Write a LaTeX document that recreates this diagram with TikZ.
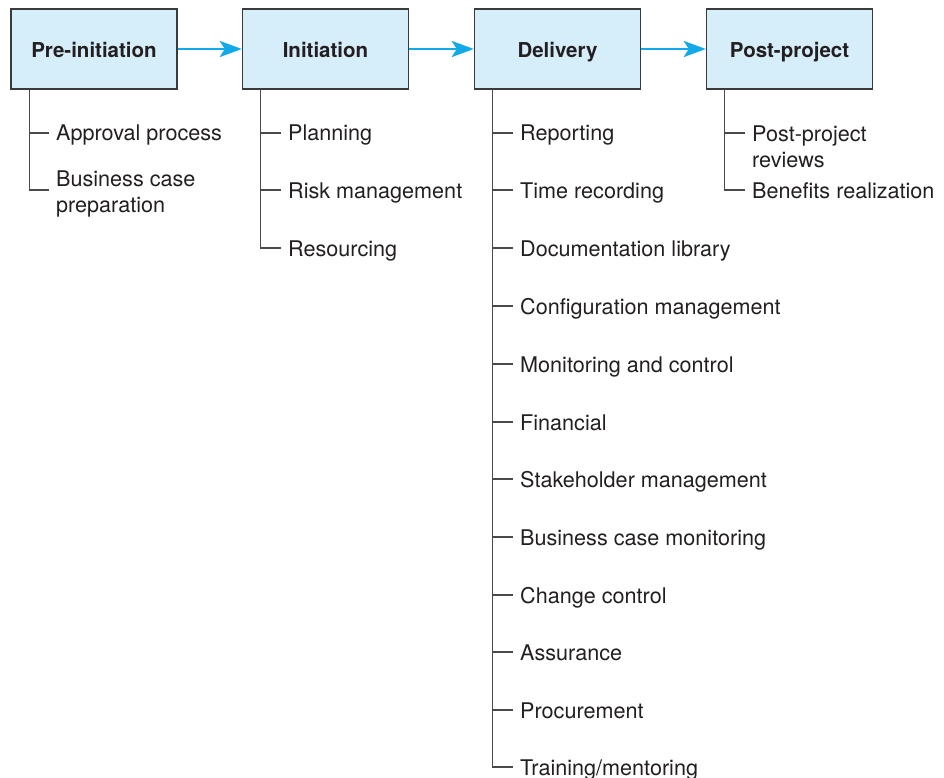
\documentclass[tikz,border=0pt]{standalone}
\usepackage{fontspec}
\setmainfont{TeX Gyre Heros}
\usetikzlibrary{arrows.meta}

\definecolor{boxblue}{HTML}{D6EDFA}
\definecolor{boxline}{HTML}{3A3A3A}
\definecolor{flowcyan}{HTML}{12A9E8}
\definecolor{treegray}{HTML}{4A4A4A}
\definecolor{inkblack}{HTML}{231F20}

\tikzset{
  stage/.style={draw=boxline, fill=boxblue, line width=1.4pt,
    minimum width=166pt, minimum height=80pt, inner sep=0pt,
    text height=17pt, text depth=0pt,
    font=\fontsize{20.5}{24}\selectfont\bfseries, text=inkblack},
  flow/.style={flowcyan, line width=2.8pt,
    -{Stealth[length=22pt,width=16pt,inset=5pt]}},
  task/.style={anchor=west, inner xsep=7pt, inner ysep=0pt,
    text height=16pt, text depth=0pt,
    font=\fontsize{21.6}{26}\selectfont, text=inkblack},
  tasklong/.style={anchor=north west, inner xsep=7pt, inner ysep=0pt,
    align=left, font=\fontsize{21.6}{26}\selectfont, text=inkblack},
  branch/.style={treegray, line width=1.3pt}
}

\begin{document}
\begin{tikzpicture}[x=1pt,y=-1pt]
        \useasboundingbox (0,0) rectangle (944,778);

        % Stage boxes
        \node[stage] (pre) at (94,49) {Pre-initiation};
        \node[stage] (ini) at (325.5,49) {Initiation};
        \node[stage] (del) at (557.5,49) {Delivery};
        \node[stage] (post) at (789.5,49) {Post-project};

        % Arrows between stages
        \draw[flow] (pre.east) -- (ini.west);
        \draw[flow] (ini.east) -- (del.west);
        \draw[flow] (del.east) -- (post.west);

        % Where the branches leave the boxes
        \coordinate (pre-top) at ([xshift=19pt]pre.south west);
        \coordinate (ini-top) at ([xshift=19pt]ini.south west);
        \coordinate (del-top) at ([xshift=19pt]del.south west);
        \coordinate (post-top) at ([xshift=19pt]post.south west);

        % Pre-initiation tasks
        \node[task] (pre1) at (49,133) {Approval process};
        \node[tasklong] (pre2) at (49,171) {Business case\\preparation};
        \coordinate (pre2-tick) at (49,190);
        \draw[branch] (pre-top |- pre1.west) -- (pre1.west);
        \draw[branch] (pre-top) |- (pre2-tick);

        % Initiation tasks
        \node[task] (ini1) at (281,133) {Planning};
        \node[task] (ini2) at (281,190) {Risk management};
        \node[task] (ini3) at (281,248) {Resourcing};
        \draw[branch] (ini-top |- ini1.west) -- (ini1.west);
        \draw[branch] (ini-top |- ini2.west) -- (ini2.west);
        \draw[branch] (ini-top) |- (ini3.west);

        % Delivery tasks
        \node[task] (del1) at (513,133) {Reporting};
        \node[task] (del2) at (513,190) {Time recording};
        \node[task] (del3) at (513,248) {Documentation library};
        \node[task] (del4) at (513,306) {Configuration management};
        \node[task] (del5) at (513,364) {Monitoring and control};
        \node[task] (del6) at (513,422) {Financial};
        \node[task] (del7) at (513,479) {Stakeholder management};
        \node[task] (del8) at (513,537) {Business case monitoring};
        \node[task] (del9) at (513,595) {Change control};
        \node[task] (del10) at (513,652) {Assurance};
        \node[task] (del11) at (513,710) {Procurement};
        \node[task] (del12) at (513,767) {Training/mentoring};
        \draw[branch] (del-top |- del1.west) -- (del1.west);
        \draw[branch] (del-top |- del2.west) -- (del2.west);
        \draw[branch] (del-top |- del3.west) -- (del3.west);
        \draw[branch] (del-top |- del4.west) -- (del4.west);
        \draw[branch] (del-top |- del5.west) -- (del5.west);
        \draw[branch] (del-top |- del6.west) -- (del6.west);
        \draw[branch] (del-top |- del7.west) -- (del7.west);
        \draw[branch] (del-top |- del8.west) -- (del8.west);
        \draw[branch] (del-top |- del9.west) -- (del9.west);
        \draw[branch] (del-top |- del10.west) -- (del10.west);
        \draw[branch] (del-top |- del11.west) -- (del11.west);
        \draw[branch] (del-top) |- (del12.west);

        % Post-project tasks
        \node[tasklong] (post1) at (745,126) {Post-project\\reviews};
        \coordinate (post1-tick) at (745,133);
        \node[task] (post2) at (745,190) {Benefits realization};
        \draw[branch] (post-top |- post1-tick) -- (post1-tick);
        \draw[branch] (post-top) |- (post2.west);
    \end{tikzpicture}
\end{document}
